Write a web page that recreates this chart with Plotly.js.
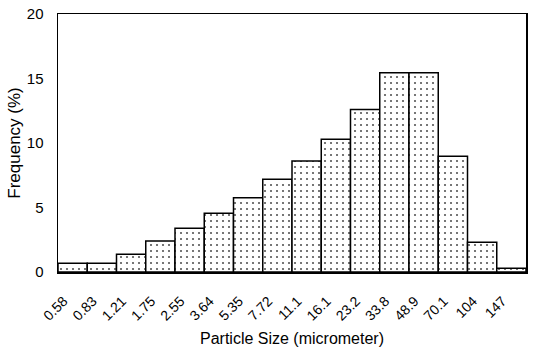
<!DOCTYPE html>
<html>
<head>
<meta charset="utf-8">
<script src="https://cdn.plot.ly/plotly-3.0.1.min.js"></script>
<style>html,body{margin:0;padding:0;background:#fff;}#chart{width:533px;height:352px;}</style>
</head>
<body>
<div id="chart"></div>
<script>
var sizes = ["0.58","0.83","1.21","1.75","2.55","3.64","5.35","7.72","11.1","16.1","23.2","33.8","48.9","70.1","104","147"];
var frequency = [0.67,0.67,1.37,2.4,3.39,4.55,5.76,7.19,8.6,10.3,12.6,15.45,15.45,8.97,2.3,0.29];
var yTicks = [0,5,10,15,20];

var trace = {
  type: 'bar',
  x: sizes,
  y: frequency,
  marker: {
    color: '#ffffff',
    line: {color: '#000000', width: 1.5},
    pattern: {shape: '.', size: 6, solidity: 0.1, fgcolor: '#555555', bgcolor: '#ffffff'}
  },
  hoverinfo: 'none'
};

var layout = {
  width: 533, height: 352,
  margin: {l: 58, r: 7, t: 14, b: 80},
  paper_bgcolor: '#ffffff', plot_bgcolor: '#ffffff',
  showlegend: false,
  bargap: 0,
  font: {family: 'Liberation Sans, Arial, sans-serif', color: '#000000'},
  xaxis: {
    type: 'category',
    tickangle: -45,
    tickfont: {size: 14},
    showgrid: false,
    showline: true, linecolor: '#000', linewidth: 1.5, mirror: true,
    ticks: '',
    ticklabelstandoff: 14,
    ticklabelshift: -9,
    title: {text: 'Particle Size (micrometer)', font: {size: 16}, standoff: 10}
  },
  yaxis: {
    range: [0, 20],
    tickvals: yTicks,
    ticktext: yTicks.map(String),
    tickfont: {size: 15},
    showgrid: false, zeroline: false,
    showline: true, linecolor: '#000', linewidth: 1.5, mirror: true,
    ticks: '',
    ticklabelstandoff: 10,
    title: {text: 'Frequency (%)', font: {size: 17}, standoff: 2}
  }
};

Plotly.newPlot('chart', [trace], layout, {displayModeBar: false, staticPlot: true});
</script>
</body>
</html>
